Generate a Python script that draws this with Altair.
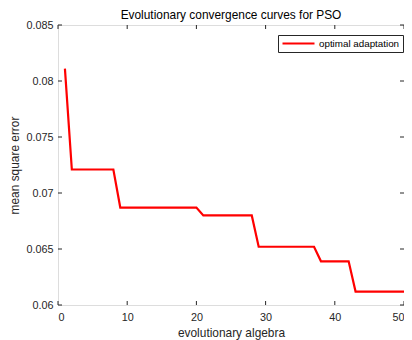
import altair as alt
import pandas as pd

generations = list(range(1, 51))
mse = [0.0811,
       0.0721, 0.0721, 0.0721, 0.0721, 0.0721, 0.0721, 0.0721,
       0.0687, 0.0687, 0.0687, 0.0687, 0.0687, 0.0687, 0.0687, 0.0687, 0.0687, 0.0687, 0.0687, 0.0687,
       0.0680, 0.0680, 0.0680, 0.0680, 0.0680, 0.0680, 0.0680, 0.0680,
       0.0652, 0.0652, 0.0652, 0.0652, 0.0652, 0.0652, 0.0652, 0.0652, 0.0652,
       0.0639, 0.0639, 0.0639, 0.0639, 0.0639,
       0.0612, 0.0612, 0.0612, 0.0612, 0.0612, 0.0612, 0.0612, 0.0612]
series_name = "optimal adaptation"
x_ticks = [0, 10, 20, 30, 40, 50]
y_ticks = [0.06, 0.065, 0.07, 0.075, 0.08, 0.085]

W, H = 346, 280
AX = "#262626"
FONT = "Liberation Sans"

df = pd.DataFrame({"gen": generations, "mse": mse, "series": [series_name] * len(generations)})
xdf = pd.DataFrame({"gen": x_ticks})
ydf = pd.DataFrame({"mse": y_ticks})

xs = alt.Scale(domain=[0, 50], nice=False, zero=False)
ys = alt.Scale(domain=[0.06, 0.085], nice=False, zero=False)

xa = alt.Axis(
    title="evolutionary algebra", values=x_ticks, format="d", ticks=False, domain=False,
    grid=False, labelPadding=6, titlePadding=6, labelFontSize=10.8, titleFontSize=11.9,
    labelColor=AX, titleColor=AX, titleFontWeight="normal", labelFont=FONT, titleFont=FONT)
ya = alt.Axis(
    title="mean square error", values=y_ticks, format="~g", ticks=False, domain=False,
    grid=False, labelPadding=5, titlePadding=5, labelFontSize=10.8, titleFontSize=11.9,
    labelColor=AX, titleColor=AX, titleFontWeight="normal", labelFont=FONT, titleFont=FONT)

line = alt.Chart(df).mark_line(strokeWidth=2.2, color="#ff0000").encode(
    x=alt.X("gen:Q", scale=xs, axis=xa),
    y=alt.Y("mse:Q", scale=ys, axis=ya),
    color=alt.Color("series:N", scale=alt.Scale(range=["#ff0000"]), legend=alt.Legend(
        title=None, orient="none", legendX=220, legendY=10, symbolType="M-4,0H4",
        symbolSize=64, symbolOffset=12, symbolStrokeWidth=2.2, labelFontSize=9.8,
        labelFont=FONT, labelColor="#000000", labelOffset=15, padding=3,
        strokeColor=AX, fillColor="#ffffff", cornerRadius=0)),
)

tick_len = 4
xb = alt.Chart(xdf).mark_rule(color=AX, strokeWidth=1).encode(
    x=alt.X("gen:Q", scale=xs, axis=xa), y=alt.value(H), y2=alt.value(H - tick_len))
xt = alt.Chart(xdf).mark_rule(color=AX, strokeWidth=1).encode(
    x=alt.X("gen:Q", scale=xs, axis=xa), y=alt.value(0), y2=alt.value(tick_len))
yl = alt.Chart(ydf).mark_rule(color=AX, strokeWidth=1).encode(
    y=alt.Y("mse:Q", scale=ys, axis=ya), x=alt.value(0), x2=alt.value(tick_len))
yr = alt.Chart(ydf).mark_rule(color=AX, strokeWidth=1).encode(
    y=alt.Y("mse:Q", scale=ys, axis=ya), x=alt.value(W), x2=alt.value(W - tick_len))

chart = alt.layer(line, xb, xt, yl, yr).properties(
    width=W, height=H,
    title=alt.TitleParams("Evolutionary convergence curves for PSO", fontSize=11.9,
                          fontWeight="normal", color="#000000", font=FONT, offset=3,
                          frame="group", dy=6),
    autosize=alt.AutoSizeParams(type="none"),
    padding={"left": 50, "top": 17, "right": 0, "bottom": 35},
).configure_view(stroke=AX, strokeWidth=1).configure(background="#ffffff")

chart.save("out.html", embed_options={"renderer": "svg", "actions": False})
